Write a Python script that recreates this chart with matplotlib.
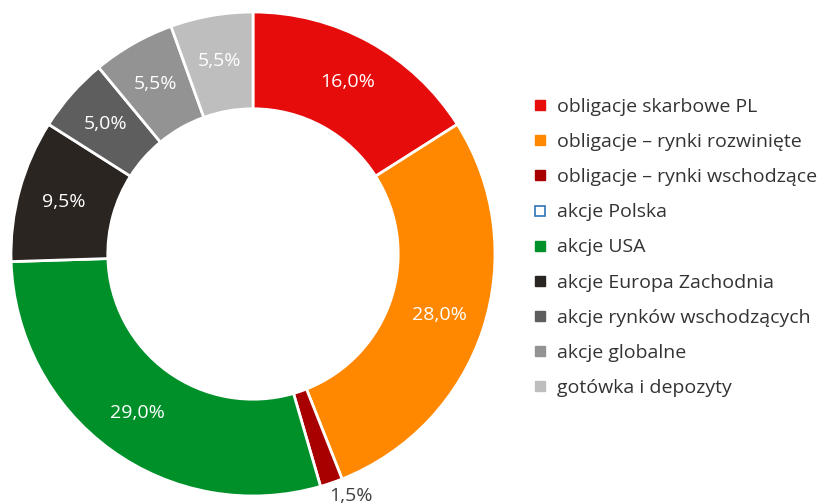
import matplotlib.pyplot as plt
from matplotlib.lines import Line2D
import numpy as np

labels = ['obligacje skarbowe PL', 'obligacje – rynki rozwinięte',
          'obligacje – rynki wschodzące', 'akcje Polska', 'akcje USA',
          'akcje Europa Zachodnia', 'akcje rynków wschodzących',
          'akcje globalne', 'gotówka i depozyty']
values = [16.0, 28.0, 1.5, 0.0, 29.0, 9.5, 5.0, 5.5, 5.5]
colors = ['#E60C0C', '#FF8800', '#A80000', '#FFFFFF', '#00902A',
          '#2A2521', '#5E5E5E', '#939393', '#BEBEBE']

plt.rcParams['font.family'] = ['Open Sans', 'DejaVu Sans']

W, H = 829, 504
fig = plt.figure(figsize=(W / 100, H / 100), dpi=100)

# donut: center (253, 254) px from top-left, radius 242 px
cx, cy, R = 253, 254, 242
ax = fig.add_axes([(cx - R) / W, (H - cy - R) / H, 2 * R / W, 2 * R / H])

vals = [v for v in values if v > 0]
cols = [c for v, c in zip(values, colors) if v > 0]

def fmt(p):
    return f'{p:.1f}%'.replace('.', ',')

wedges, texts, autotexts = ax.pie(
    vals, colors=cols, startangle=90, counterclock=False, radius=1,
    wedgeprops=dict(width=0.4, edgecolor='white', linewidth=2),
    autopct=fmt, pctdistance=0.81,
    textprops=dict(color='white', fontsize=14))

# small slice label outside the ring
for w, t, v in zip(wedges, autotexts, vals):
    if v < 3:
        ang = np.deg2rad((w.theta1 + w.theta2) / 2 + 3)
        t.set_position((1.08 * np.cos(ang), 1.08 * np.sin(ang)))
        t.set_color('#404040')
ax.set_xlim(-1, 1)
ax.set_ylim(-1, 1)
ax.set_aspect('equal')
ax.axis('off')

handles = []
for lab, c in zip(labels, colors):
    if c == '#FFFFFF':
        h = Line2D([], [], marker='s', linestyle='', markersize=7,
                   markerfacecolor='white', markeredgecolor='#2E75B6',
                   markeredgewidth=1.2)
    else:
        h = Line2D([], [], marker='s', linestyle='', markersize=7,
                   markerfacecolor=c, markeredgecolor=c)
    handles.append(h)

fig.legend(handles, labels, loc='upper left', bbox_to_anchor=(535 / W, 1 - 98 / H),
           frameon=False, fontsize=14, labelcolor='#333333',
           handlelength=0.5, handletextpad=0.62, labelspacing=0.88,
           borderaxespad=0, borderpad=0)

fig.savefig('out.png', dpi=100)
